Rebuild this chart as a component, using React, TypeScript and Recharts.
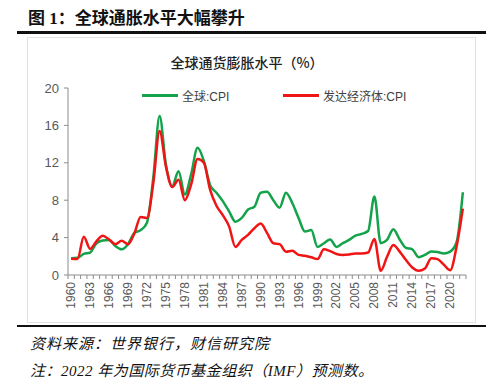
import React from 'react';
import { LineChart, Line, XAxis, YAxis } from 'recharts';

const YEARS = Array.from({ length: 63 }, (_, i) => String(1960 + i));

// 全球:CPI
const GLOBAL_CPI = [
  1.8, 1.85, 2.25, 2.4, 3.4, 3.7, 3.75, 3.1, 2.75, 3.3,
  4.5, 4.8, 5.6, 10.4, 17.0, 11.8, 9.5, 11.1, 8.6, 10.8,
  13.6, 12.2, 9.6, 8.8, 7.9, 6.8, 5.7, 6.1, 7.0, 7.3,
  8.8, 8.9, 8.0, 7.2, 8.8, 7.7, 6.1, 4.65, 4.8, 3.0,
  3.4, 3.8, 3.0, 3.4, 3.75, 4.2, 4.4, 4.7, 8.4, 3.4,
  3.75, 4.9, 3.8, 2.9, 2.75, 1.9, 2.15, 2.5, 2.45, 2.3,
  2.5, 3.5, 8.85,
];

// 发达经济体:CPI
const DEV_CPI = [
  1.75, 1.7, 4.1, 2.8, 3.6, 4.2, 3.8, 3.3, 3.65, 3.3,
  4.45, 6.2, 6.1, 9.8, 15.4, 11.6, 9.4, 10.2, 8.0, 9.7,
  12.4, 12.0, 9.1, 7.4, 6.4, 5.2, 3.0, 3.75, 4.3, 5.0,
  5.5, 4.5, 3.4, 3.3, 2.5, 2.6, 2.15, 2.05, 1.9, 1.7,
  2.75, 2.55, 2.25, 2.15, 2.2, 2.3, 2.3, 2.4, 3.85, 0.45,
  1.95, 3.2, 2.5, 1.6, 0.8, 0.45, 0.7, 1.8, 1.7, 1.1,
  0.5, 3.0, 7.1,
];

const Y_TICKS = [0, 4, 8, 12, 16, 20];

const data = YEARS.map((year, i) => ({ year, global: GLOBAL_CPI[i], dev: DEV_CPI[i] }));

const GREEN = '#14a24a';
const RED = '#f01414';
const AXIS = '#8c8c8c';
const SANS = '"Liberation Sans", Arial, "Noto Sans CJK SC", sans-serif';

const HALF_BAND = 3.16;

const XTick = ({ x, y, payload, index }: any) => (
  <g>
    <line x1={x - HALF_BAND} x2={x - HALF_BAND} y1={y} y2={y + 4} stroke={AXIS} />
    {index === YEARS.length - 1 && (
      <line x1={x + HALF_BAND} x2={x + HALF_BAND} y1={y} y2={y + 4} stroke={AXIS} />
    )}
    {index % 3 === 0 && (
      <text
        x={x}
        y={y + 7}
        transform={`rotate(-90, ${x}, ${y + 7})`}
        textAnchor="end"
        dominantBaseline="central"
        fontSize={12}
        fill="#595959"
        fontFamily={SANS}
      >
        {payload.value}
      </text>
    )}
  </g>
);

const LegendItem = ({ color, label, left }: { color: string; label: string; left: number }) => (
  <div style={{ position: 'absolute', left, top: 87, display: 'flex', alignItems: 'center', fontSize: 12, color: '#404040', fontFamily: SANS }}>
    <span style={{ display: 'inline-block', width: 36, height: 3, background: color, marginRight: 4 }} />
    <span>{label}</span>
  </div>
);

export default function App() {
  return (
    <div style={{ position: 'absolute', left: 0, top: 0, width: 500, height: 390, background: '#fff', overflow: 'hidden' }}>
      <div style={{ position: 'absolute', left: 28, top: 4, fontSize: 17, fontWeight: 'bold', color: '#111', fontFamily: '"Liberation Serif", "Noto Sans CJK SC", serif' }}>
        图 1：全球通胀水平大幅攀升
      </div>
      <div style={{ position: 'absolute', left: 17, top: 31, width: 469, height: 2.5, background: '#111' }} />
      <div style={{ position: 'absolute', left: 27, top: 37, width: 447, height: 284, border: '1px solid #e2e2e2' }} />
      <div style={{ position: 'absolute', left: 0, width: 494, top: 52, textAlign: 'center', fontSize: 14, fontWeight: 500, color: '#222', fontFamily: '"Noto Sans CJK SC", sans-serif' }}>
        全球通货膨胀水平（%）
      </div>
      <div style={{ position: 'absolute', left: 0, top: 0 }}>
        <LineChart width={500} height={390} data={data} margin={{ top: 88, right: 34, bottom: 75, left: 8 }}>
          <XAxis
            dataKey="year"
            interval={0}
            height={40}
            tickLine={false}
            tickSize={0}
            tickMargin={0}
            padding={{ left: HALF_BAND, right: HALF_BAND }}
            axisLine={{ stroke: AXIS }}
            tick={<XTick />}
          />
          <YAxis
            domain={[0, 20]}
            ticks={Y_TICKS}
            width={60}
            tickSize={4}
            tickMargin={5}
            axisLine={{ stroke: AXIS }}
            tickLine={{ stroke: AXIS }}
            tick={{ fontSize: 13, fill: '#595959', fontFamily: SANS }}
          />
          <Line type="monotone" dataKey="global" stroke={GREEN} strokeWidth={2.5} dot={false} isAnimationActive={false} />
          <Line type="monotone" dataKey="dev" stroke={RED} strokeWidth={2.5} dot={false} isAnimationActive={false} />
        </LineChart>
      </div>
      <LegendItem color={GREEN} label="全球:CPI" left={142} />
      <LegendItem color={RED} label="发达经济体:CPI" left={283} />
      <div style={{ position: 'absolute', left: 17, top: 324.5, width: 469, height: 2.5, background: '#111' }} />
      <div style={{ position: 'absolute', left: 30, top: 332, fontSize: 15, fontStyle: 'italic', color: '#111', fontFamily: '"Liberation Serif", "Noto Sans CJK SC", serif', letterSpacing: 1 }}>
        资料来源：世界银行，财信研究院
      </div>
      <div style={{ position: 'absolute', left: 30, top: 359, fontSize: 15, fontStyle: 'italic', color: '#111', fontFamily: '"Liberation Serif", "Noto Sans CJK SC", serif', letterSpacing: 0.5 }}>
        注：2022 年为国际货币基金组织（IMF）预测数。
      </div>
    </div>
  );
}
